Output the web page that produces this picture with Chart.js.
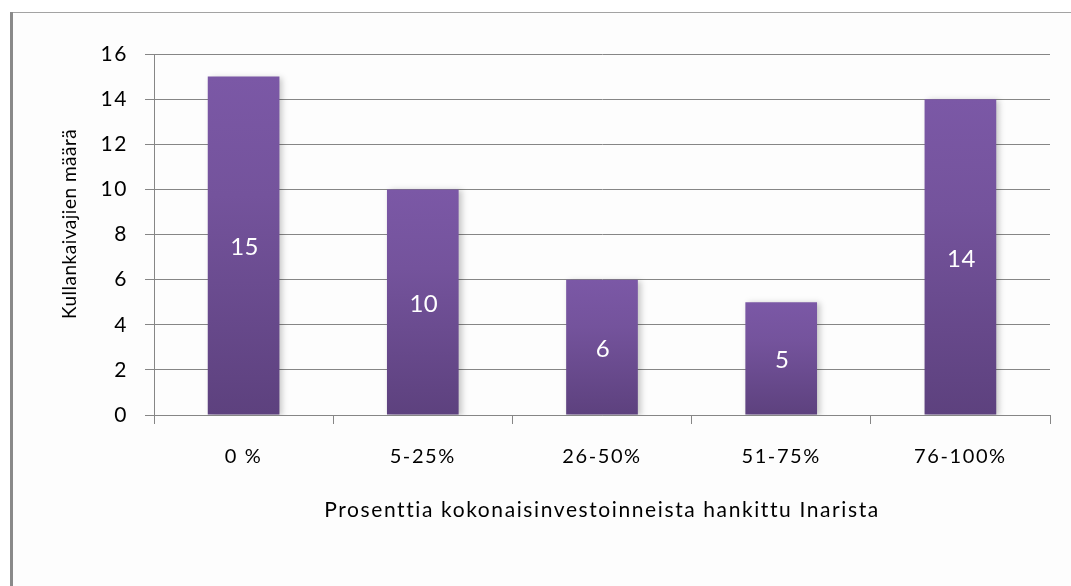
<!DOCTYPE html>
<html>
<head>
<meta charset="utf-8">
<script src="https://cdn.jsdelivr.net/npm/chart.js@4.4.1/dist/chart.umd.min.js"></script>
<style>
  html, body { margin: 0; padding: 0; background: #fff; }
  canvas { display: block; }
</style>
</head>
<body>
<canvas id="myChart" width="1071" height="586"></canvas>
<script>
const categories = ["0 %", "5-25%", "26-50%", "51-75%", "76-100%"];
const counts = [15, 10, 6, 5, 14];
const yTickValues = [0, 2, 4, 6, 8, 10, 12, 14, 16];
const yTitle = "Kullankaivajien määrä";
const xTitle = "Prosenttia kokonaisinvestoinneista hankittu Inarista";

const FONT = "Lato, 'Open Sans', sans-serif";
const GRID = "#868686";

// frame round the chart (thick grey left edge, thin top edge)
const frame = {
  id: "frame",
  beforeDraw(chart) {
    const ctx = chart.ctx;
    ctx.save();
    ctx.fillStyle = "#fdfdfd";
    ctx.fillRect(10, 12, chart.width - 10, chart.height - 12);
    ctx.fillStyle = "#a3a3a3";
    ctx.fillRect(10, 12, chart.width - 10, 1);
    ctx.fillStyle = "#8a8a8a";
    ctx.fillRect(10, 12, 3, chart.height - 12);
    ctx.restore();
    // the original text is set rather loosely
    ctx.letterSpacing = "1.6px";
  },
};

// soft shadow to the right of the bars
const barShadow = {
  id: "barShadow",
  beforeDatasetsDraw(chart) {
    const ctx = chart.ctx;
    ctx.save();
    ctx.shadowColor = "rgba(0,0,0,0.22)";
    ctx.shadowBlur = 6;
    ctx.shadowOffsetX = 3;
    ctx.shadowOffsetY = 1;
  },
  afterDatasetsDraw(chart) {
    chart.ctx.restore();
  },
};

// white value in the middle of each bar, plus the rotated y title
const valueLabels = {
  id: "valueLabels",
  afterDatasetsDraw(chart) {
    const ctx = chart.ctx;
    const meta = chart.getDatasetMeta(0);
    ctx.save();
    ctx.letterSpacing = "0.5px";
    ctx.fillStyle = "#ffffff";
    ctx.font = "24px " + FONT;
    ctx.textAlign = "center";
    ctx.textBaseline = "middle";
    meta.data.forEach((bar, i) => {
      const c = bar.getCenterPoint();
      ctx.fillText(String(counts[i]), c.x + 1, c.y + 2);
    });
    ctx.restore();

    ctx.save();
    ctx.letterSpacing = "0.5px";
    ctx.fillStyle = "#000";
    ctx.font = "19px " + FONT;
    ctx.textAlign = "center";
    ctx.textBaseline = "middle";
    ctx.translate(70, 224);
    ctx.rotate(-Math.PI / 2);
    ctx.fillText(yTitle, 0, 0);
    ctx.restore();
  },
};

function barGradient(context) {
  const chart = context.chart;
  const { chartArea, scales } = chart;
  if (!chartArea || !scales.y) return "#6d4e96";
  const top = scales.y.getPixelForValue(context.raw);
  const bottom = scales.y.getPixelForValue(0);
  const g = chart.ctx.createLinearGradient(0, top, 0, bottom);
  g.addColorStop(0, "#7b58a6");
  g.addColorStop(0.35, "#74539c");
  g.addColorStop(1, "#5d417e");
  return g;
}

new Chart("myChart", {
  type: "bar",
  data: {
    labels: categories,
    datasets: [
      {
        data: counts,
        backgroundColor: barGradient,
        borderWidth: 0,
        barPercentage: 0.8,
        categoryPercentage: 0.5,
      },
    ],
  },
  plugins: [frame, barShadow, valueLabels],
  options: {
    responsive: false,
    animation: false,
    devicePixelRatio: 1,
    layout: { padding: { left: 57, right: 21, top: 54, bottom: 60 } },
    plugins: { legend: { display: false }, tooltip: { enabled: false } },
    scales: {
      y: {
        min: 0,
        max: 16,
        afterBuildTicks(scale) {
          scale.ticks = yTickValues.map((v) => ({ value: v }));
        },
        afterFit(scale) {
          scale.width = 97;
        },
        ticks: {
          color: "#000",
          padding: 17,
          font: { family: FONT, size: 21 },
        },
        grid: { color: GRID, tickLength: 9, lineWidth: 1 },
        border: { color: GRID, width: 1 },
      },
      x: {
        afterFit(scale) {
          scale.height = 111;
        },
        ticks: {
          color: "#000",
          padding: 21,
          font: { family: FONT, size: 20 },
        },
        grid: {
          offset: true,
          drawOnChartArea: false,
          color: GRID,
          tickLength: 9,
        },
        border: { color: GRID, width: 1 },
        title: {
          display: true,
          text: xTitle,
          color: "#000",
          font: { family: FONT, size: 21 },
          padding: { top: 4, bottom: 3 },
        },
      },
    },
  },
});
</script>
</body>
</html>
